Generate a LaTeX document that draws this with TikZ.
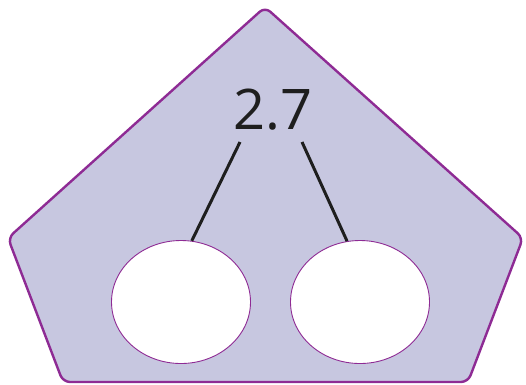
\documentclass[tikz,border=0pt]{standalone}
\usepackage{fontspec}
\setmainfont{Open Sans}
\usetikzlibrary{shapes.geometric}
\definecolor{lav}{RGB}{199,199,224}
\definecolor{purp}{RGB}{142,43,148}
\definecolor{ink}{RGB}{30,30,30}
\begin{document}
\begin{tikzpicture}[x=1pt,y=-1pt,
  hole/.style={ellipse,draw=purp,line width=0.9pt,fill=white,minimum width=139pt,minimum height=123pt,inner sep=0pt},
  link/.style={draw=ink,line width=3pt},
  numlabel/.style={font=\fontsize{56}{60}\selectfont,text=ink,inner sep=0pt}]
\useasboundingbox (0,0) rectangle (526,384);
\draw[fill=lav,draw=purp,line width=2.4pt,rounded corners=7pt]
  (265,7) -- (523,238) -- (468,382) -- (63,382) -- (8,238) -- cycle;
\node[numlabel] (t) at (273,110) {2.7};
\node[hole] (e1) at (181,302) {};
\node[hole] (e2) at (360,302) {};
\coordinate (l1) at (240,142);
\coordinate (l2) at (302,142);
\draw[link] (l1) -- (e1.80);
\draw[link] (l2) -- (e2.102);
\end{tikzpicture}
\end{document}
